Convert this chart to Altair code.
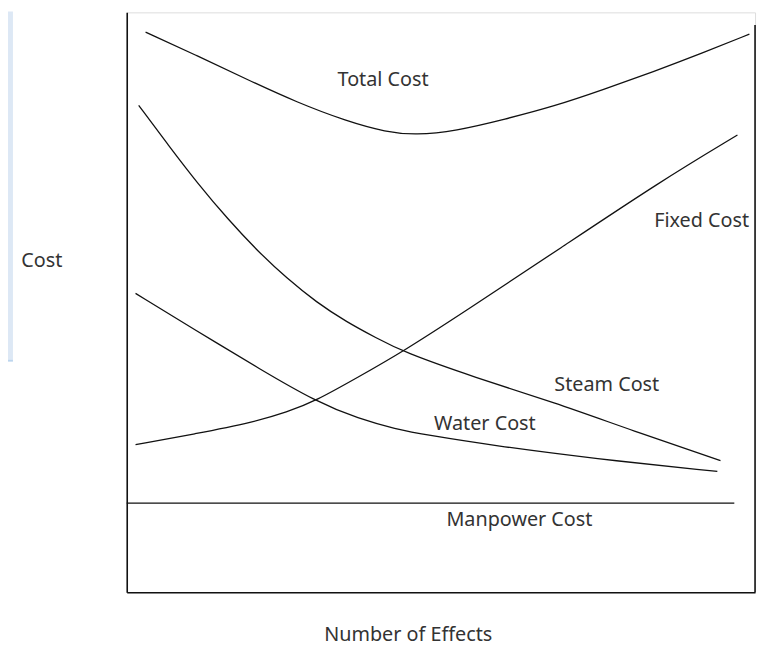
import altair as alt
import pandas as pd

# Curves (x = number of effects, 0-10 ; y = cost, 0-100)
total_x = [0.30, 1.13, 1.92, 2.71, 3.50, 4.13, 4.60, 5.23, 6.02, 6.80, 7.59, 8.38, 9.17, 9.91]
total_y = [96.59, 92.49, 88.40, 84.47, 81.23, 79.35, 78.84, 79.52, 81.57, 83.79, 86.69, 89.76, 93.00, 96.25]

steam_x = [0.19, 0.66, 1.13, 1.61, 2.08, 2.55, 3.02, 3.50, 3.97, 4.39, 5.54, 6.80, 8.06, 9.45]
steam_y = [83.96, 77.13, 70.48, 64.33, 58.87, 54.10, 50.00, 46.59, 43.86, 41.47, 37.03, 32.76, 27.82, 22.70]

fixed_x = [0.14, 1.09, 2.03, 2.55, 3.00, 3.70, 4.39, 5.34, 6.91, 8.49, 9.72]
fixed_y = [25.43, 27.30, 29.35, 31.06, 32.94, 37.20, 41.47, 48.12, 59.39, 70.82, 78.84]

water_x = [0.14, 1.09, 2.13, 3.00, 3.70, 4.28, 4.76, 5.86, 7.43, 9.40]
water_y = [51.54, 45.22, 38.40, 32.94, 29.86, 28.16, 27.13, 25.26, 23.04, 20.82]

manpower_x = [0.0, 9.67]
manpower_y = [15.36]

right_line_x = [10.0]
right_line_y = [0.0, 97.8]

label_text = ["Total Cost", "Fixed Cost", "Steam Cost", "Water Cost", "Manpower Cost"]
label_x = [4.08, 9.15, 7.64, 5.70, 6.25]
label_y = [88.4, 64.0, 35.8, 29.0, 12.5]

FONT = "Noto Sans"
FS = 20
TXT = "#333333"

rows = []
for name, xs, ys in [("Total", total_x, total_y), ("Steam", steam_x, steam_y),
                     ("Fixed", fixed_x, fixed_y), ("Water", water_x, water_y)]:
    for a, b in zip(xs, ys):
        rows.append({"series": name, "x": a, "y": b})
curves = pd.DataFrame(rows)

xscale = alt.Scale(domain=[0, 10], nice=False, zero=False)
yscale = alt.Scale(domain=[0, 100], nice=False, zero=False)

xaxis = alt.Axis(title="Number of Effects", ticks=False, labels=False, grid=False,
                 domainColor="#111111", domainWidth=1.6,
                 titleX=284, titleY=49, titleAlign="center", titleBaseline="alphabetic",
                 titleFont=FONT, titleFontSize=FS, titleFontWeight="normal", titleColor=TXT)
yaxis = alt.Axis(title="Cost", ticks=False, labels=False, grid=False,
                 domainColor="#111111", domainWidth=1.6,
                 titleAngle=0, titleX=-107, titleY=251, titleAlign="left", titleBaseline="middle",
                 titleFont=FONT, titleFontSize=FS, titleFontWeight="normal", titleColor=TXT)

lines = alt.Chart(curves).mark_line(interpolate="basis", color="#111111", strokeWidth=1.3).encode(
    x=alt.X("x:Q", scale=xscale, axis=xaxis),
    y=alt.Y("y:Q", scale=yscale, axis=yaxis),
    detail="series:N",
)

manpower = alt.Chart(pd.DataFrame({"x": [manpower_x[0]], "x2": [manpower_x[1]], "y": manpower_y})).mark_rule(
    color="#111111", strokeWidth=1.5).encode(
    x=alt.X("x:Q", scale=xscale), x2="x2:Q", y=alt.Y("y:Q", scale=yscale))

right_line = alt.Chart(pd.DataFrame({"x": right_line_x, "y": [right_line_y[0]], "y2": [right_line_y[1]]})).mark_rule(
    color="#111111", strokeWidth=1.6).encode(
    x=alt.X("x:Q", scale=xscale), y=alt.Y("y:Q", scale=yscale), y2="y2:Q")

labels = alt.Chart(pd.DataFrame({"t": label_text, "x": label_x, "y": label_y})).mark_text(
    font=FONT, fontSize=FS, color=TXT, align="center", baseline="middle").encode(
    x=alt.X("x:Q", scale=xscale), y=alt.Y("y:Q", scale=yscale), text="t:N")

# decorative light-blue strip at the far left of the picture
panel = alt.Chart(pd.DataFrame({"k": [0]})).mark_rect(
    color="#dde8f5", strokeWidth=0, clip=False).encode(
    x=alt.value(-120), x2=alt.value(-115), y=alt.value(-1), y2=alt.value(351))
panel_edge = alt.Chart(pd.DataFrame({"k": [0]})).mark_rule(color="#bcd5ee", strokeWidth=2).encode(
    x=alt.value(-120), x2=alt.value(-115), y=alt.value(352))

chart = alt.layer(panel, panel_edge, lines, manpower, right_line, labels).properties(
    width=635, height=586,
    autosize=alt.AutoSizeParams(type="none"),
    padding={"left": 120, "top": 1, "right": 4, "bottom": 54},
).configure_view(stroke=None).configure(background="white")

chart.save("out.html", embed_options={"renderer": "svg", "actions": False})
